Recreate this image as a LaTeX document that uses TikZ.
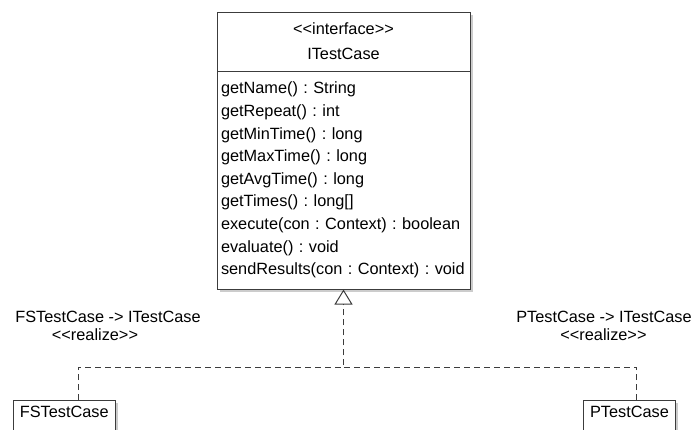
\documentclass[tikz,border=0pt]{standalone}
\usepackage{fontspec}
\newfontfamily\umlfont{Liberation Sans}
\usetikzlibrary{arrows.meta,positioning,shadows}
\definecolor{umlline}{RGB}{60,60,60}
\tikzset{
  umlbox/.style={draw=umlline,line width=1pt,fill=white,font={\umlfont\fontsize{16.3}{22.6}\selectfont\frenchspacing},
    drop shadow={shadow xshift=2.5pt,shadow yshift=-2.5pt,fill=black!40,opacity=.5}},
  umlclass/.style={umlbox,anchor=north west,minimum width=#1,text depth=40pt,inner xsep=5pt,inner ysep=6pt},
}

\begin{document}
\begin{tikzpicture}[
    x=1pt,y=-1pt,
    realize/.style={draw=umlline,line width=1pt,dash pattern=on 6pt off 4pt,-{Triangle[open,width=18pt,length=15pt]}},
    rellabel/.style={font={\umlfont\fontsize{16.3}{19}\selectfont\frenchspacing},inner sep=0pt},
  ]
    \useasboundingbox (0,0) rectangle (697,429);
    \clip (0,0) rectangle (697,429);

    %────────── INTERFACE ──────────
    \node[umlbox,minimum width=253pt,minimum height=59pt,align=center,inner sep=0pt] (itc) at (343.5,41.5) {<<interface>>\\[2.4pt]ITestCase};
    \node[umlbox,below=-1pt of itc,text width=245pt,inner xsep=4pt,inner ysep=0pt,minimum height=218pt,align=left] (itcops) {getName() : String\\
      getRepeat() : int\\
      getMinTime() : long\\
      getMaxTime() : long\\
      getAvgTime() : long\\
      getTimes() : long[]\\
      execute(con : Context) : boolean\\
      evaluate() : void\\
      sendResults(con : Context) : void};

    %────────── IMPLEMENTATIONS ────
    \node[umlclass=102pt] (fs) at (12.7,400) {FSTestCase};
    \node[umlclass=92pt] (pt) at (583,400) {PTestCase};

    %────────── REALIZATION ────────
    \coordinate (fork) at (itcops.south |- 0,367);
    \draw[realize] ([xshift=14pt]fs.north) |- (fork) -- (itcops.south);
    \draw[realize,-] ([xshift=7pt]pt.north) |- (fork);

    %────────── LABELS ─────────────
    \node[rellabel] (fsname) at (108,317) {FSTestCase -> ITestCase};
    \node[rellabel] (fsstereo) at (95,335) {<<realize>>};
    \node[rellabel] (ptname) at (604,317) {PTestCase -> ITestCase};
    \node[rellabel] (ptstereo) at (603.5,335) {<<realize>>};
\end{tikzpicture}
\end{document}
